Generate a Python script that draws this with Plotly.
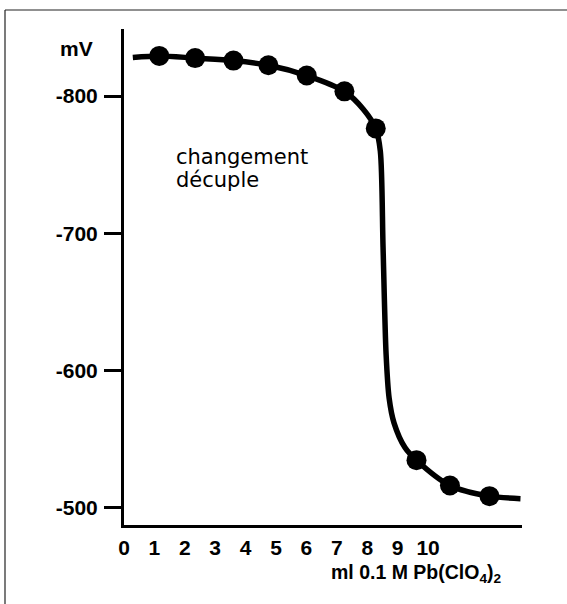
import plotly.graph_objects as go

# ---- data ----
point_ml = [1.16, 2.34, 3.60, 4.75, 6.01, 7.25, 8.28, 9.62, 10.72, 12.02]
point_mv = [-829.2, -827.6, -825.8, -822.4, -814.9, -803.4, -776.4, -534.8, -516.4, -508.6]

curve_ml = [0.29, 1.16, 2.34, 3.60, 4.75, 6.01, 7.25, 7.87, 8.28, 8.43, 8.52, 8.62,
            8.72, 8.88, 9.24, 9.62, 10.72, 12.02, 13.04]
curve_mv = [-828.1, -829.2, -827.6, -825.8, -822.4, -814.9, -803.4, -790.4, -776.4, -760.0,
            -690.0, -612.0, -580.0, -562.0, -544.0, -534.8, -516.4, -508.6, -506.8]

x_tick_vals = [0, 1, 2, 3, 4, 5, 6, 7, 8, 9, 10]
x_tick_text = ["0", "1", "2", "3", "4", "5", "6", "7", "8", "9", "10"]
y_tick_vals = [-800, -700, -600, -500]
y_tick_text = ["-800", "-700", "-600", "-500"]

y_unit = "mV"
x_title = "ml 0.1 M Pb(ClO<sub>4</sub>)<sub>2</sub>"
note_lines = ["changement", "décuple"]

BOLD = dict(family="Liberation Sans Narrow, Arial Narrow, sans-serif", size=21,
            color="black", weight="bold")
TITLE = dict(family="Liberation Sans Narrow, Arial Narrow, sans-serif", size=19.5,
             color="black", weight="bold")
NOTE = dict(family="DejaVu Sans", size=21, color="black")

fig = go.Figure()
fig.add_trace(go.Scatter(x=curve_ml, y=curve_mv, mode="lines",
                         line=dict(color="black", width=5.5, shape="spline", smoothing=0.8),
                         hoverinfo="skip", showlegend=False))
fig.add_trace(go.Scatter(x=point_ml, y=point_mv, mode="markers",
                         marker=dict(color="black", size=20),
                         showlegend=False))

W, H = 567, 604
L, R, T, B = 124, 45, 29, 79
pw, ph = W - L - R, H - T - B

def px_x(p):
    return (p - L) / pw

def px_y(p):
    return (H - B - p) / ph

fig.update_layout(
    width=W, height=H,
    margin=dict(l=L, r=R, t=T, b=B),
    paper_bgcolor="white", plot_bgcolor="white",
    xaxis=dict(range=[0, 13.09], showline=True, linecolor="black", linewidth=3,
               showgrid=False, zeroline=False, ticks="",
               tickvals=x_tick_vals, ticktext=x_tick_text, tickfont=BOLD,
               ticklabelstandoff=2),
    yaxis=dict(range=[-487.6, -848.8], showline=True, linecolor="black", linewidth=3,
               showgrid=False, zeroline=False, ticks="outside", ticklen=17, tickwidth=3,
               tickcolor="black",
               tickvals=y_tick_vals, ticktext=y_tick_text, tickfont=BOLD,
               ticklabelstandoff=2),
    annotations=[
        dict(text=y_unit, xref="paper", yref="paper", x=px_x(95), y=px_y(49),
             xanchor="right", yanchor="middle", showarrow=False, font=BOLD),
        dict(text=x_title, xref="paper", yref="paper", x=px_x(329), y=px_y(573),
             xanchor="left", yanchor="middle", showarrow=False, font=TITLE),
        dict(text=note_lines[0], xref="paper", yref="paper", x=px_x(174), y=px_y(157),
             xanchor="left", yanchor="middle", showarrow=False, font=NOTE),
        dict(text=note_lines[1], xref="paper", yref="paper", x=px_x(174), y=px_y(180),
             xanchor="left", yanchor="middle", showarrow=False, font=NOTE),
    ],
    shapes=[
        dict(type="line", xref="paper", yref="paper", x0=px_x(5), x1=px_x(5),
             y0=px_y(10), y1=px_y(640), line=dict(color="#222", width=1.2)),
        dict(type="line", xref="paper", yref="paper", x0=px_x(5), x1=px_x(600),
             y0=px_y(10), y1=px_y(10), line=dict(color="#222", width=1.2)),
    ],
)

fig.write_html("out.html", config={"displayModeBar": False})

# remove the default page margin so the figure sits at the window origin
with open("out.html", encoding="utf-8") as f:
    html = f.read()
html = html.replace("<body>", '<body style="margin:0;overflow:hidden">', 1)
with open("out.html", "w", encoding="utf-8") as f:
    f.write(html)
